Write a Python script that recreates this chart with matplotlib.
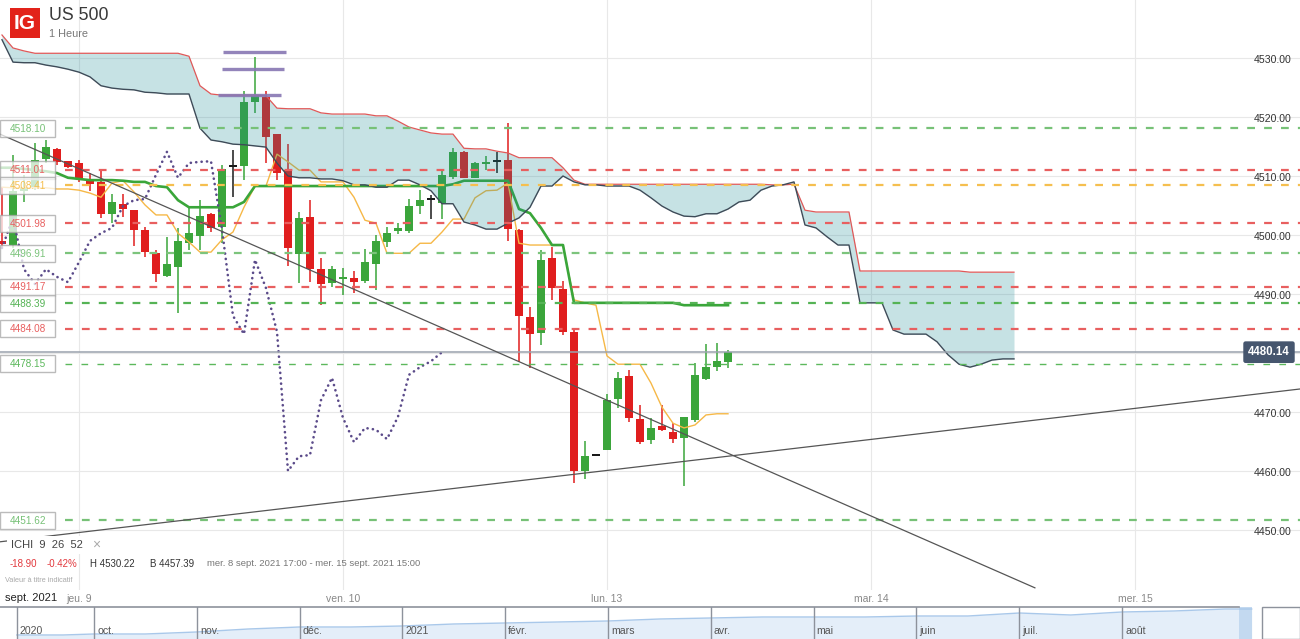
import matplotlib
matplotlib.use("Agg")
import matplotlib.pyplot as plt
import matplotlib.transforms as mtransforms
from matplotlib.patches import Rectangle
import numpy as np

plt.rcParams["font.family"] = ["Liberation Sans", "DejaVu Sans"]

# US 500, 1 hour candles (mer. 8 sept. 17:00 -> lun. 13 sept. 11:00)
opens = [4499.0, 4498.3, 4507.5, 4508.1, 4512.9, 4514.6, 4512.5, 4512.2, 4509.3, 4509.0,
         4503.6, 4505.3, 4504.2, 4500.8, 4496.9, 4493.1, 4494.6, 4498.6, 4499.8, 4503.6,
         4501.4, 4511.7, 4511.7, 4522.5, 4523.4, 4517.1, 4511.0, 4496.8, 4503.1, 4494.2,
         4491.9, 4492.5, 4492.7, 4492.2, 4495.1, 4498.8, 4500.7, 4500.7, 4504.9, 4506.1,
         4505.4, 4509.8, 4514.1, 4509.7, 4512.0, 4512.5, 4512.7, 4500.8, 4486.1, 4483.4,
         4496.1, 4490.8, 4483.6, 4460.0, 4462.7, 4463.6, 4472.2, 4476.1, 4468.8, 4465.3,
         4467.6, 4466.6, 4465.6, 4468.6, 4475.6, 4477.6, 4478.5]
highs = [4508.1, 4513.6, 4510.2, 4515.6, 4516.1, 4514.8, 4512.6, 4512.7, 4510.5, 4510.8,
         4506.9, 4506.9, 4504.3, 4501.4, 4497.5, 4499.7, 4501.2, 4504.9, 4505.9, 4503.7,
         4511.9, 4514.4, 4524.4, 4530.22, 4524.4, 4517.2, 4515.4, 4503.9, 4505.9, 4496.1,
         4494.7, 4494.4, 4493.9, 4497.6, 4500.0, 4501.4, 4502.0, 4506.1, 4507.6, 4506.8,
         4510.8, 4514.7, 4514.2, 4512.4, 4513.4, 4514.1, 4519.0, 4501.0, 4487.8, 4497.5,
         4498.0, 4492.2, 4483.9, 4465.1, 4462.7, 4473.1, 4476.8, 4477.1, 4471.2, 4469.0,
         4471.2, 4468.1, 4469.2, 4478.3, 4481.5, 4481.7, 4480.5]
lows = [4497.8, 4497.8, 4505.6, 4507.6, 4512.2, 4511.9, 4511.4, 4509.0, 4507.5, 4502.9,
        4502.0, 4503.1, 4498.1, 4496.3, 4492.0, 4492.9, 4486.8, 4497.5, 4497.5, 4500.5,
        4498.6, 4506.4, 4509.3, 4520.7, 4512.2, 4509.3, 4494.7, 4491.9, 4492.0, 4488.1,
        4491.2, 4489.8, 4490.2, 4491.9, 4490.7, 4498.0, 4500.2, 4500.3, 4503.6, 4502.7,
        4502.7, 4509.5, 4509.6, 4509.6, 4511.0, 4510.5, 4499.0, 4478.5, 4477.5, 4481.4,
        4489.0, 4483.1, 4458.0, 4458.6, 4462.7, 4463.5, 4470.7, 4468.3, 4464.6, 4464.6,
        4466.8, 4464.7, 4457.39, 4468.3, 4475.5, 4477.0, 4477.5]
closes = [4498.5, 4507.5, 4508.1, 4512.7, 4514.9, 4512.4, 4511.5, 4509.5, 4508.6, 4503.6,
          4505.6, 4504.4, 4500.8, 4497.1, 4493.4, 4495.1, 4499.0, 4500.3, 4503.2, 4501.2,
          4511.2, 4511.7, 4522.5, 4523.6, 4516.6, 4510.5, 4497.8, 4502.9, 4494.2, 4491.7,
          4494.2, 4492.9, 4492.0, 4495.4, 4499.0, 4500.3, 4501.2, 4504.9, 4505.9, 4506.1,
          4510.2, 4514.1, 4509.7, 4512.2, 4512.4, 4512.5, 4501.0, 4486.3, 4483.2, 4495.8,
          4491.0, 4483.6, 4460.0, 4462.5, 4462.7, 4472.0, 4475.8, 4469.0, 4464.9, 4467.3,
          4467.0, 4465.4, 4469.2, 4476.3, 4477.6, 4478.6, 4480.14]

# Ichimoku 9 26 52
tenkan = [4508.1, 4508.0, 4508.0, 4508.0, 4508.0, 4507.8, 4507.8, 4507.6, 4507.1, 4506.4,
          4508.8, 4509.2, 4507.3, 4505.1, 4503.4, 4503.4, 4500.3, 4498.8, 4497.1, 4497.1,
          4499.2, 4500.5, 4504.7, 4508.3, 4508.3, 4513.7, 4512.4, 4511.0, 4511.0, 4509.0,
          4509.0, 4509.0, 4506.4, 4502.5, 4502.0, 4496.9, 4496.9, 4496.9, 4498.6, 4498.6,
          4500.5, 4502.7, 4502.7, 4506.3, 4507.5, 4507.6, 4508.8, 4498.6, 4498.3, 4498.3,
          4498.3, 4498.3, 4489.0, 4488.5, 4488.1, 4479.5, 4478.1, 4478.1, 4478.1, 4474.9,
          4470.8, 4468.1, 4467.3, 4467.8, 4469.5, 4469.7, 4469.7]
kijun = [4511.4, 4511.4, 4511.2, 4511.0, 4510.8, 4510.5, 4509.7, 4509.5, 4509.3, 4509.3,
         4509.3, 4509.2, 4509.0, 4509.0, 4508.3, 4508.1, 4505.9, 4504.7, 4504.7, 4504.7,
         4504.7, 4504.7, 4505.6, 4508.3, 4508.3, 4508.3, 4508.3, 4508.3, 4508.3, 4508.3,
         4508.3, 4508.3, 4508.3, 4508.3, 4508.3, 4508.3, 4508.3, 4508.3, 4508.3, 4508.3,
         4508.3, 4508.6, 4509.2, 4509.2, 4509.2, 4509.2, 4509.2, 4504.4, 4503.7, 4501.2,
         4498.3, 4498.3, 4488.5, 4488.5, 4488.5, 4488.5, 4488.5, 4488.5, 4488.5, 4488.5,
         4488.5, 4488.5, 4488.1, 4488.1, 4488.1, 4488.1, 4488.1]
span_a = [4533.1, 4529.3, 4529.2, 4529.2, 4528.8, 4528.5, 4528.1, 4527.6, 4526.8, 4525.3,
          4524.9, 4524.7, 4524.6, 4524.2, 4524.1, 4523.9, 4523.9, 4523.9, 4518.1, 4516.1,
          4515.8, 4515.4, 4515.3, 4515.1, 4514.9, 4512.2, 4510.0, 4509.7, 4509.7, 4509.5,
          4509.5, 4509.2, 4508.5, 4508.5, 4508.1, 4508.1, 4509.3, 4509.3, 4508.5, 4507.5,
          4505.3, 4505.3, 4502.2, 4501.7, 4501.0, 4501.0, 4502.0, 4502.9, 4504.7, 4508.3,
          4508.3, 4510.0, 4509.0, 4508.5, 4508.5, 4508.3, 4508.3, 4508.3, 4507.6, 4506.3,
          4504.9, 4503.9, 4503.2, 4503.1, 4503.6, 4503.6, 4504.4, 4505.6, 4505.9, 4507.6,
          4508.3, 4508.5, 4509.0, 4501.7, 4501.2, 4499.7, 4498.3, 4498.3, 4488.5, 4488.5,
          4488.5, 4483.9, 4483.2, 4483.2, 4483.2, 4481.9, 4479.7, 4478.1, 4477.6, 4478.1,
          4478.8, 4479.0, 4479.0]
span_b = [4533.9, 4531.7, 4531.2, 4530.8, 4530.8, 4530.8, 4530.8, 4530.8, 4530.8, 4530.8,
          4530.8, 4530.8, 4530.8, 4530.8, 4530.8, 4530.8, 4530.8, 4530.3, 4525.3, 4523.9,
          4523.7, 4523.7, 4523.7, 4523.7, 4523.6, 4521.5, 4521.4, 4521.4, 4521.4, 4520.7,
          4520.5, 4520.5, 4520.5, 4520.5, 4520.2, 4520.2, 4519.3, 4518.3, 4517.8, 4517.3,
          4517.1, 4517.1, 4514.7, 4514.6, 4514.6, 4514.2, 4513.9, 4513.1, 4513.1, 4513.1,
          4513.1, 4511.4, 4509.3, 4508.6, 4508.6, 4508.6, 4508.6, 4508.6, 4508.6, 4508.6,
          4508.6, 4508.6, 4508.6, 4508.6, 4508.6, 4508.6, 4508.6, 4508.6, 4508.6, 4508.6,
          4508.5, 4508.5, 4508.6, 4504.2, 4503.9, 4503.9, 4503.9, 4503.9, 4493.9, 4493.9,
          4493.9, 4493.9, 4493.9, 4493.9, 4493.9, 4493.9, 4493.9, 4493.9, 4493.7, 4493.7,
          4493.7, 4493.7, 4493.7]
chikou_shift = 26

# drawn levels
levels = [4518.10, 4511.01, 4508.41, 4501.98, 4496.91, 4491.17, 4488.39, 4484.08, 4478.15, 4451.62]
level_colors = ["#77c177", "#e85f5f", "#f5bf4f", "#e85f5f", "#7cc47c", "#e85f5f",
                "#55b355", "#e85f5f", "#5cb85c", "#77c177"]
level_widths = [1.6, 1.6, 1.6, 1.6, 1.6, 1.6, 1.6, 1.6, 1.0, 1.6]
last_price = 4480.14

# purple marks above the high
mark_prices = [4531.0, 4528.1, 4523.7]
mark_start = [20.1, 20.0, 19.6]
mark_end = [25.8, 25.6, 25.4]

# trend lines (candle index, price)
down_x = [-0.18, 93.9]
down_y = [4517.1, 4440.2]
up_x = [-0.18, 118.0]
up_y = [4448.0, 4473.9]

day_ticks = [7, 31, 55, 79, 103]
day_labels = ["jeu. 9", "ven. 10", "lun. 13", "mar. 14", "mer. 15"]
price_ticks = [4450, 4460, 4470, 4480, 4490, 4500, 4510, 4520, 4530]

# navigator (months since oct. 2020)
nav_months = [-0.75, -0.3, 0.0, 0.5, 1.0, 1.5, 2.0, 2.5, 3.0, 3.5, 4.0, 4.5, 5.0,
              5.5, 6.0, 6.5, 7.0, 7.5, 8.0, 8.5, 9.0, 9.5, 10.0, 10.5, 11.0, 11.26]
nav_values = [3411, 3411, 3451, 3451, 3532, 3652, 3733, 3733, 3773, 3854, 3894, 3934, 3975,
              4055, 4096, 4136, 4136, 4136, 4176, 4176, 4297, 4217, 4338, 4378, 4458, 4458]
nav_ticks = [-0.75, 0, 1, 2, 3, 4, 5, 6, 7, 8, 9, 10]
nav_labels = ["2020", "oct.", "nov.", "déc.", "2021", "févr.", "mars", "avr.",
              "mai", "juin", "juil.", "août"]
nav_window = (11.14, 11.26)

W, H = 1300, 639
GREEN = "#3ba53b"
RED = "#e01e1e"
DOJI = "#1a1a1a"


def fx(px):
    return px / W


def fy(py):
    return 1 - py / H


fig = plt.figure(figsize=(13, 6.39), dpi=100)
fig.patch.set_facecolor("white")

ax = fig.add_axes([0, 49 / H, 1, 590 / H])
ax.set_xlim(-0.18, 118.0)
ax.set_ylim(4439.83, 4539.83)
for s in ax.spines.values():
    s.set_visible(False)
ax.set_axisbelow(True)
ax.set_yticks(price_ticks)
ax.set_xticks(day_ticks)
ax.set_xticklabels(day_labels)
ax.tick_params(axis="y", length=0, labelleft=False)
ax.tick_params(axis="x", length=0, pad=3, labelsize=7.5, labelcolor="#888888")
ax.grid(True, color="#e8e8e8", lw=0.8)

# candles
x = np.arange(len(closes))
o = np.array(opens)
c = np.array(closes)
hi = np.array(highs)
lo = np.array(lows)
cols = np.where(c > o, GREEN, np.where(c < o, RED, DOJI))
ax.vlines(x, lo, hi, colors=cols, lw=1.1, zorder=2)
body = np.maximum(np.abs(c - o), 0.3)
base = np.minimum(o, c) - (body - np.abs(c - o)) / 2
ax.bar(x, body, bottom=base, width=0.7, color=cols, zorder=2)

# tenkan / kijun
ax.plot(x, tenkan, color="#f6b847", lw=1.0, zorder=3)
ax.plot(x, kijun, color="#3aa63a", lw=1.9, zorder=3)

# kumo
xc = np.arange(len(span_a))
ax.fill_between(xc, span_a, span_b, color=(30 / 255, 140 / 255, 150 / 255),
                alpha=0.25, lw=0, zorder=4)
ax.plot(xc, span_b, color="#e05858", lw=0.9, zorder=5)
ax.plot(xc, span_a, color="#3e4b58", lw=1.0, zorder=5)

# chikou
ax.plot(x[chikou_shift:] - chikou_shift, c[chikou_shift:], color="#5b4b8a", lw=1.9,
        linestyle=(0, (0.05, 2.0)), dash_capstyle="round", zorder=6)

# levels with left boxes
bl = mtransforms.blended_transform_factory(ax.transAxes, ax.transData)
for lv, col, lw in zip(levels, level_colors, level_widths):
    dash = (3.5, 4.1) if lw > 1.2 else (4.8, 6.7)
    ax.axhline(lv, xmin=fx(65), xmax=1, color=col, lw=lw, linestyle=(0, dash), zorder=6)
    ax.add_patch(Rectangle((0, lv - 1.45), fx(55), 2.9, transform=bl, facecolor="white",
                           edgecolor="#a5a5a5", lw=1.0, alpha=0.75, zorder=8))
    ax.text(fx(28), lv - 0.05, f"{lv:.2f}", transform=bl, ha="center", va="center",
            color=col, fontsize=7.2, zorder=9)

# last price
ax.axhline(last_price, color="#9aa2ad", lw=1.1, zorder=6)
ax.text(fx(1269), last_price, f"{last_price:.2f}", transform=bl, ha="center", va="center",
        color="white", fontsize=8.3, fontweight="bold", zorder=10,
        bbox=dict(boxstyle="round,pad=0.42,rounding_size=0.2", facecolor="#46566e",
                  edgecolor="none"))

# price axis labels (the one under the last price box is hidden)
for v in price_ticks:
    if abs(v - last_price) < 3:
        continue
    ax.text(fx(1291), v - 0.35, f"{v:.2f}", transform=bl, ha="right", va="center",
            color="#333333", fontsize=7.6, zorder=9)

# purple marks
ax.hlines(mark_prices, mark_start, mark_end, color="#8777b3", lw=2.4, alpha=0.9, zorder=6)

# trend lines
ax.plot(down_x, down_y, color="#555555", lw=0.9, zorder=7)
ax.plot(up_x, up_y, color="#555555", lw=0.9, zorder=7)

# header
fig.patches.append(Rectangle((fx(10), fy(38)), 30 / W, 30 / H, transform=fig.transFigure,
                             facecolor="#e2231a", edgecolor="none", zorder=5))
fig.text(fx(25), fy(23.5), "IG", color="white", fontsize=15, fontweight="bold",
         ha="center", va="center", zorder=6)
fig.text(fx(49), fy(16), "US 500", color="#3a3a3a", fontsize=12.8, va="center")
fig.text(fx(49), fy(34), "1 Heure", color="#777777", fontsize=7.8, va="center")

# indicator legend and info
fig.text(fx(11), fy(545), "ICHI  9  26  52", color="#444444", fontsize=8, va="center",
         bbox=dict(boxstyle="square,pad=0.35", facecolor="white", edgecolor="none"), zorder=6)
fig.text(fx(92), fy(545), "×", color="#aaaaaa", fontsize=10, va="center", zorder=6)
fig.text(fx(10), fy(564), "-18.90", color="#e2383d", fontsize=7, va="center")
fig.text(fx(47), fy(564), "-0.42%", color="#e2383d", fontsize=7, va="center")
fig.text(fx(90), fy(564), "H 4530.22", color="#333333", fontsize=7, va="center")
fig.text(fx(150), fy(564), "B 4457.39", color="#333333", fontsize=7, va="center")
fig.text(fx(207), fy(564), "mer. 8 sept. 2021 17:00 - mer. 15 sept. 2021 15:00",
         color="#777777", fontsize=6.8, va="center")
fig.text(fx(5), fy(581), "Valeur à titre indicatif", color="#aaaaaa", fontsize=5.3, va="center")
fig.text(fx(5), fy(598), "sept. 2021", color="#222222", fontsize=8, va="center")

# navigator
nav = fig.add_axes([0, 0, 1, 32 / H])
nav.set_xlim(-0.914, 11.73)
nav.set_ylim(3249, 4539)
nav.axis("off")
nav.fill_between(nav_months, nav_values, 3249, color="#e4eef9", lw=0)
nav.plot(nav_months, nav_values, color="#a9c8ea", lw=1.0)
nav.axvspan(nav_window[0], nav_window[1], color="#c3d9f0", lw=0)
nav.axhline(4539, xmin=0, xmax=fx(1239), color="#8d929c", lw=1.2, clip_on=False)
nbl = mtransforms.blended_transform_factory(nav.transData, nav.transAxes)
for m, lab in zip(nav_ticks, nav_labels):
    nav.axvline(m, color="#8d929c", lw=1.0)
    nav.text(m + 0.03, 0.24, lab, transform=nbl, color="#555555", fontsize=7.6, va="center")
fig.patches.append(Rectangle((fx(1262), 0), 38 / W, 32 / H, transform=fig.transFigure,
                             facecolor="white", edgecolor="#8d929c", lw=1.0, zorder=5))

fig.savefig("out.png", dpi=100)
